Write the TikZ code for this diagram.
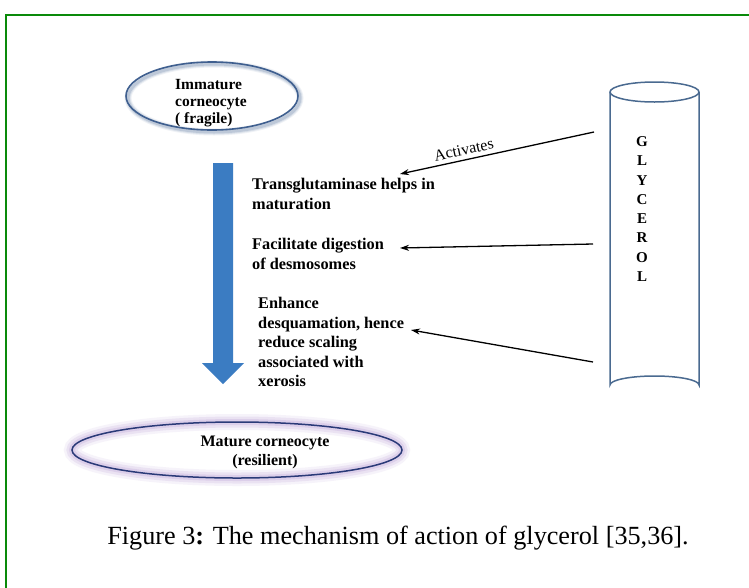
\documentclass[tikz,border=0pt]{standalone}
\usepackage{fontspec}
\setmainfont{Liberation Serif}
\usetikzlibrary{arrows.meta,shapes.geometric}
\definecolor{frameg}{HTML}{0A8A0A}
\definecolor{ellblue}{HTML}{3F5F8F}
\definecolor{arrblue}{HTML}{3B7CC2}
\definecolor{cylblue}{HTML}{4A6A90}
\definecolor{glow}{HTML}{C9B3DE}
\definecolor{navy}{HTML}{2A3A78}
\tikzset{
  lbl/.style={font=\bfseries\fontsize{16.3}{19.5}\selectfont, align=left, inner sep=0pt, anchor=north west},
  act/.style={draw=black, line width=1.3pt, -{Stealth[length=9pt,width=6pt]}},
}
\begin{document}
\begin{tikzpicture}[x=1pt,y=-1pt]
\useasboundingbox (0,0) rectangle (749,587);
\fill[white] (0,0) rectangle (749,587);
% frame
\draw[frameg, line width=2.6pt] (6,590) -- (6,15) -- (752,15);

% top ellipse with soft shadow
\foreach \w/\o in {7/0.08,5/0.12,3/0.18}
  \draw[ellblue, line width=\w pt, opacity=\o] (214,98) ellipse [x radius=86, y radius=34];
\draw[ellblue, line width=1.6pt] (212,96) ellipse [x radius=86, y radius=34];
\node[font=\bfseries\fontsize{15.5}{17}\selectfont, align=left, inner sep=0pt, anchor=west] (imm) at (175,103) {Immature\\corneocyte\\( fragile)};

% big blue arrow
\fill[arrblue] (213,163) -- (233,163) -- (233,363) -- (244,363) -- (223,384) -- (202,363) -- (213,363) -- cycle;

% texts
\node[lbl] (t1) at (252,178) {Transglutaminase helps in\\maturation};
\node[lbl] (t2) at (252,238) {Facilitate digestion\\of desmosomes};
\node[lbl] (t3) at (258,297) {Enhance\\desquamation, hence\\reduce scaling\\associated with\\xerosis};

% bottom ellipse with glow
\foreach \w/\o in {16/0.15,11/0.25,6/0.4}
  \draw[glow, line width=\w pt, opacity=\o] (237,450) ellipse [x radius=165, y radius=28];
\draw[navy, line width=1.5pt] (237,450) ellipse [x radius=165, y radius=28];
\node[font=\bfseries\fontsize{16}{19}\selectfont, align=center, inner sep=0pt] (mat) at (265,452) {Mature corneocyte\\(resilient)};

% cylinder
\draw[cylblue, line width=1.5pt] (610,92) -- (610,385) arc[start angle=180, end angle=360, x radius=44.5, y radius=9] -- (699,92);
\draw[cylblue, line width=1.5pt] (654.5,92) ellipse [x radius=44.5, y radius=10];
\node[font=\bfseries\fontsize{15}{19.3}\selectfont, align=center, inner sep=0pt] (gly) at (642,209) {G\\L\\Y\\C\\E\\R\\O\\L};
\coordinate (c1) at (594,132);
\coordinate (c2) at (593,244);
\coordinate (c3) at (593,362);
\coordinate (e1) at (400,174);
\coordinate (e2) at (400,248);
\coordinate (e3) at (411,330);

% arrows
\draw[act] (c1) -- node[above, sloped, font=\fontsize{16}{18}\selectfont, pos=0.66, yshift=1pt] {Activates} (e1);
\draw[act] (c2) -- (e2);
\draw[act] (c3) -- (e3);

% caption
\node[font=\fontsize{26.2}{29}\selectfont, inner sep=0pt] (cap) at (398,538) {Figure 3\textbf{:} The mechanism of action of glycerol [35,36].};
\end{tikzpicture}
\end{document}
